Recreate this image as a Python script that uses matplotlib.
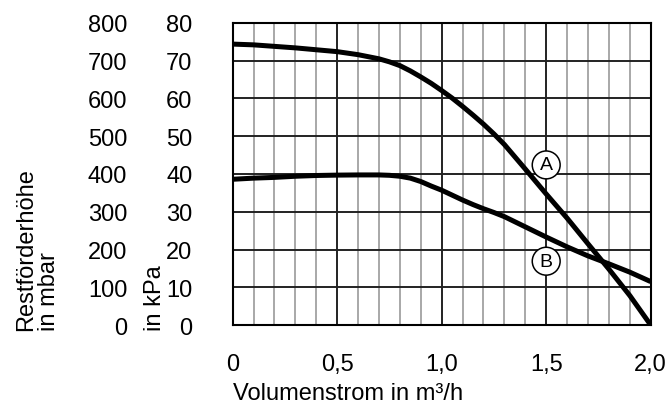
import matplotlib
matplotlib.use("Agg")
import matplotlib.pyplot as plt
from matplotlib.ticker import MultipleLocator

plt.rcParams['font.family'] = ['Liberation Sans', 'DejaVu Sans']

# Data (flow in m³/h, residual head in kPa)
flow = [0.0, 0.1, 0.2, 0.3, 0.4, 0.5, 0.6, 0.7, 0.75, 0.8, 0.85, 0.9, 0.95, 1.0, 1.05,
        1.1, 1.15, 1.2, 1.25, 1.3, 1.4, 1.5, 1.6, 1.7, 1.8, 1.9, 2.0]
curve_a = [74.4, 74.2, 73.8, 73.4, 72.9, 72.4, 71.6, 70.5, 69.7, 68.7, 67.3, 65.7, 64.0, 62.1, 60.1,
           57.9, 55.6, 53.2, 50.6, 47.8, 41.3, 34.7, 28.3, 21.5, 14.8, 7.8, 0.0]
curve_b = [38.6, 38.9, 39.1, 39.4, 39.6, 39.7, 39.75, 39.75, 39.65, 39.4, 38.9, 38.0, 36.8, 35.7, 34.4,
           33.1, 31.9, 30.8, 29.8, 28.7, 26.0, 23.3, 20.7, 18.3, 16.2, 14.0, 11.5]
label_names = ['A', 'B']
label_pos = [(1.5, 42.4), (1.5, 16.9)]

x_ticks = [0, 0.5, 1.0, 1.5, 2.0]
x_ticklabels = ['0', '0,5', '1,0', '1,5', '2,0']
kpa_ticks = [0, 10, 20, 30, 40, 50, 60, 70, 80]
mbar_ticks = [0, 100, 200, 300, 400, 500, 600, 700, 800]

FS = 17

fig = plt.figure(figsize=(6.7, 4.06), dpi=100)
ax = fig.add_axes([0.3473, 0.197, 0.9712 - 0.3473, 0.941 - 0.197])

ax.set_xlim(0, 2.0)
ax.set_ylim(0, 80)

# grid
ax.xaxis.set_minor_locator(MultipleLocator(0.1))
ax.grid(which='minor', axis='x', color='#a8a8a8', lw=1.4, zorder=0)
ax.grid(which='major', axis='x', color='#222222', lw=1.4, zorder=1)
ax.grid(which='major', axis='y', color='#222222', lw=1.4, zorder=1)

ax.plot(flow, curve_a, color='black', lw=3.6, solid_joinstyle='round', solid_capstyle='butt', zorder=3)
ax.plot(flow, curve_b, color='black', lw=3.6, solid_joinstyle='round', solid_capstyle='butt', zorder=3)

for name, (px, py) in zip(label_names, label_pos):
    ax.text(px, py, name, ha='center', va='center', fontsize=14, zorder=4,
            bbox=dict(boxstyle='circle,pad=0.28', fc='white', ec='black', lw=1.1))

ax.set_xticks(x_ticks)
ax.set_xticklabels(x_ticklabels)
ax.set_yticks(kpa_ticks)
ax.set_yticklabels([str(v) for v in kpa_ticks])
ax.tick_params(axis='both', which='both', length=0, labelsize=FS)
ax.tick_params(axis='x', pad=20)
ax.tick_params(axis='y', pad=29)

for s in ax.spines.values():
    s.set_color('black')
    s.set_linewidth(1.5)
    s.set_zorder(5)

sec = ax.secondary_yaxis('left', functions=(lambda v: v * 10, lambda v: v / 10))
sec.set_yticks(mbar_ticks)
sec.set_yticklabels([str(v) for v in mbar_ticks])
sec.tick_params(length=0, labelsize=FS, pad=76)
sec.spines['left'].set_visible(False)

ax.set_xlabel('Volumenstrom in m³/h', fontsize=FS, loc='left', labelpad=5)

fig.text(38 / 670, 1 - 331 / 406, 'Restförderhöhe\nin mbar', rotation=90,
         ha='center', va='bottom', fontsize=FS, multialignment='left', linespacing=1.05)
fig.text(155 / 670, 1 - 331 / 406, 'in kPa', rotation=90,
         ha='center', va='bottom', fontsize=FS)

fig.savefig('out.png', dpi=100)
